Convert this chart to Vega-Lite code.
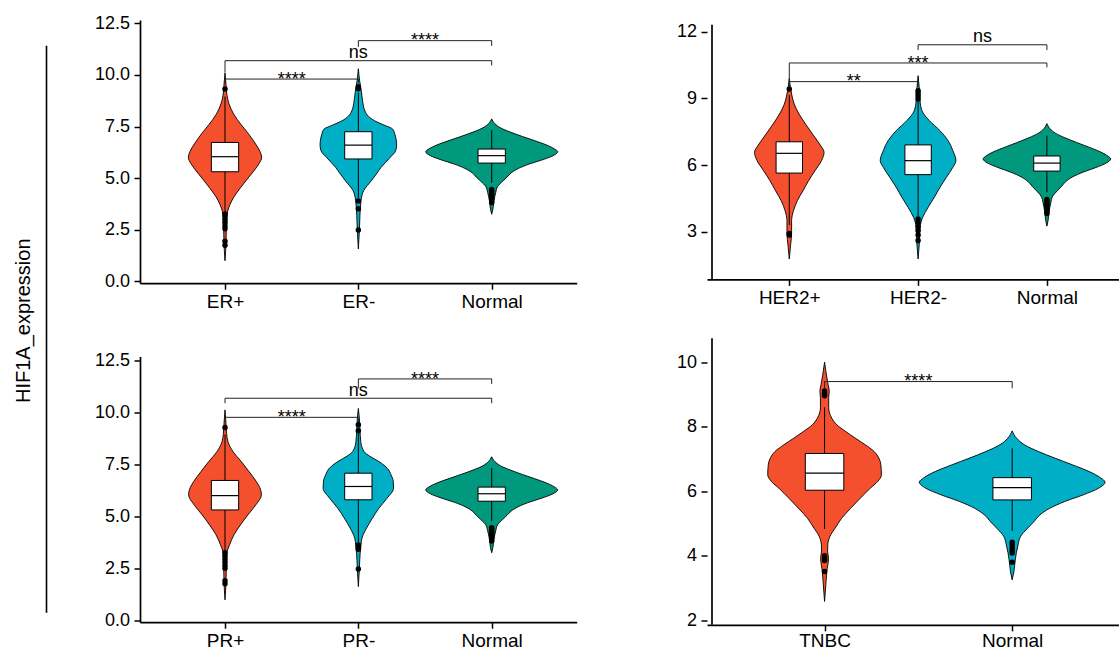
{
"$schema": "https://vega.github.io/schema/vega-lite/v6.json",
"padding": {"left": 0, "top": 14, "right": 0, "bottom": 0},
"config": {
  "font": "Liberation Sans",
  "view": {"stroke": null},
  "axis": {"grid": false, "domainColor": "black", "domainWidth": 1.7, "tickColor": "black", "tickWidth": 1.5, "tickSize": 6, "labelColor": "black", "labelFlush": false, "labelOverlap": false, "labelFont": "Liberation Sans"},
  "axisX": {"labelFontSize": 19, "labelPadding": 3},
  "axisY": {"labelFontSize": 18, "labelPadding": 4.5}
},
"datasets": {
  "violins": [
    {"p":"ER","g":"ER+","y":1.0,"lo":1,"hi":1},
    {"p":"ER","g":"ER+","y":1.5,"lo":0.995,"hi":1.005},
    {"p":"ER","g":"ER+","y":2.0,"lo":0.992,"hi":1.008},
    {"p":"ER","g":"ER+","y":2.5,"lo":0.99,"hi":1.01},
    {"p":"ER","g":"ER+","y":3.0,"lo":0.988,"hi":1.012},
    {"p":"ER","g":"ER+","y":3.4,"lo":0.98,"hi":1.02},
    {"p":"ER","g":"ER+","y":3.7,"lo":0.964,"hi":1.036},
    {"p":"ER","g":"ER+","y":4.1,"lo":0.932,"hi":1.068},
    {"p":"ER","g":"ER+","y":4.55,"lo":0.882,"hi":1.118},
    {"p":"ER","g":"ER+","y":4.9,"lo":0.84,"hi":1.16},
    {"p":"ER","g":"ER+","y":5.3,"lo":0.79,"hi":1.21},
    {"p":"ER","g":"ER+","y":5.7,"lo":0.745,"hi":1.255},
    {"p":"ER","g":"ER+","y":6.0,"lo":0.725,"hi":1.275},
    {"p":"ER","g":"ER+","y":6.3,"lo":0.738,"hi":1.262},
    {"p":"ER","g":"ER+","y":6.7,"lo":0.775,"hi":1.225},
    {"p":"ER","g":"ER+","y":7.2,"lo":0.83,"hi":1.17},
    {"p":"ER","g":"ER+","y":7.6,"lo":0.88,"hi":1.12},
    {"p":"ER","g":"ER+","y":8.1,"lo":0.935,"hi":1.065},
    {"p":"ER","g":"ER+","y":8.6,"lo":0.97,"hi":1.03},
    {"p":"ER","g":"ER+","y":9.0,"lo":0.985,"hi":1.015},
    {"p":"ER","g":"ER+","y":9.5,"lo":0.992,"hi":1.008},
    {"p":"ER","g":"ER+","y":10.1,"lo":1,"hi":1},

    {"p":"ER","g":"ER-","y":1.57,"lo":2,"hi":2},
    {"p":"ER","g":"ER-","y":2.5,"lo":1.992,"hi":2.008},
    {"p":"ER","g":"ER-","y":3.2,"lo":1.988,"hi":2.012},
    {"p":"ER","g":"ER-","y":3.9,"lo":1.98,"hi":2.02},
    {"p":"ER","g":"ER-","y":4.4,"lo":1.96,"hi":2.04},
    {"p":"ER","g":"ER-","y":4.88,"lo":1.902,"hi":2.098},
    {"p":"ER","g":"ER-","y":5.2,"lo":1.865,"hi":2.135},
    {"p":"ER","g":"ER-","y":5.52,"lo":1.83,"hi":2.17},
    {"p":"ER","g":"ER-","y":6.0,"lo":1.762,"hi":2.238},
    {"p":"ER","g":"ER-","y":6.33,"lo":1.72,"hi":2.28},
    {"p":"ER","g":"ER-","y":6.6,"lo":1.713,"hi":2.287},
    {"p":"ER","g":"ER-","y":6.85,"lo":1.716,"hi":2.284},
    {"p":"ER","g":"ER-","y":7.1,"lo":1.725,"hi":2.275},
    {"p":"ER","g":"ER-","y":7.38,"lo":1.743,"hi":2.257},
    {"p":"ER","g":"ER-","y":7.55,"lo":1.8,"hi":2.2},
    {"p":"ER","g":"ER-","y":7.78,"lo":1.878,"hi":2.122},
    {"p":"ER","g":"ER-","y":8.0,"lo":1.925,"hi":2.075},
    {"p":"ER","g":"ER-","y":8.26,"lo":1.951,"hi":2.049},
    {"p":"ER","g":"ER-","y":8.74,"lo":1.968,"hi":2.032},
    {"p":"ER","g":"ER-","y":9.23,"lo":1.978,"hi":2.022},
    {"p":"ER","g":"ER-","y":9.7,"lo":1.99,"hi":2.01},
    {"p":"ER","g":"ER-","y":10.3,"lo":2,"hi":2},

    {"p":"ER","g":"Normal","y":3.25,"lo":3,"hi":3},
    {"p":"ER","g":"Normal","y":3.5,"lo":2.991,"hi":3.009},
    {"p":"ER","g":"Normal","y":3.9,"lo":2.983,"hi":3.017},
    {"p":"ER","g":"Normal","y":4.3,"lo":2.97,"hi":3.03},
    {"p":"ER","g":"Normal","y":4.6,"lo":2.955,"hi":3.045},
    {"p":"ER","g":"Normal","y":4.85,"lo":2.918,"hi":3.082},
    {"p":"ER","g":"Normal","y":5.05,"lo":2.885,"hi":3.115},
    {"p":"ER","g":"Normal","y":5.25,"lo":2.855,"hi":3.145},
    {"p":"ER","g":"Normal","y":5.47,"lo":2.8,"hi":3.2},
    {"p":"ER","g":"Normal","y":5.68,"lo":2.72,"hi":3.28},
    {"p":"ER","g":"Normal","y":5.89,"lo":2.62,"hi":3.38},
    {"p":"ER","g":"Normal","y":6.09,"lo":2.54,"hi":3.46},
    {"p":"ER","g":"Normal","y":6.28,"lo":2.505,"hi":3.495},
    {"p":"ER","g":"Normal","y":6.42,"lo":2.53,"hi":3.47},
    {"p":"ER","g":"Normal","y":6.61,"lo":2.59,"hi":3.41},
    {"p":"ER","g":"Normal","y":6.82,"lo":2.68,"hi":3.32},
    {"p":"ER","g":"Normal","y":7.02,"lo":2.77,"hi":3.23},
    {"p":"ER","g":"Normal","y":7.23,"lo":2.86,"hi":3.14},
    {"p":"ER","g":"Normal","y":7.44,"lo":2.935,"hi":3.065},
    {"p":"ER","g":"Normal","y":7.64,"lo":2.976,"hi":3.024},
    {"p":"ER","g":"Normal","y":7.87,"lo":3,"hi":3},

    {"p":"HER","g":"HER2+","y":1.77,"lo":1,"hi":1},
    {"p":"HER","g":"HER2+","y":2.4,"lo":0.99,"hi":1.01},
    {"p":"HER","g":"HER2+","y":2.9,"lo":0.982,"hi":1.018},
    {"p":"HER","g":"HER2+","y":3.5,"lo":0.982,"hi":1.018},
    {"p":"HER","g":"HER2+","y":3.95,"lo":0.967,"hi":1.033},
    {"p":"HER","g":"HER2+","y":4.4,"lo":0.937,"hi":1.063},
    {"p":"HER","g":"HER2+","y":4.85,"lo":0.893,"hi":1.107},
    {"p":"HER","g":"HER2+","y":5.3,"lo":0.85,"hi":1.15},
    {"p":"HER","g":"HER2+","y":5.75,"lo":0.8,"hi":1.2},
    {"p":"HER","g":"HER2+","y":6.2,"lo":0.75,"hi":1.25},
    {"p":"HER","g":"HER2+","y":6.57,"lo":0.73,"hi":1.27},
    {"p":"HER","g":"HER2+","y":6.95,"lo":0.765,"hi":1.235},
    {"p":"HER","g":"HER2+","y":7.4,"lo":0.82,"hi":1.18},
    {"p":"HER","g":"HER2+","y":7.85,"lo":0.874,"hi":1.126},
    {"p":"HER","g":"HER2+","y":8.3,"lo":0.924,"hi":1.076},
    {"p":"HER","g":"HER2+","y":8.75,"lo":0.962,"hi":1.038},
    {"p":"HER","g":"HER2+","y":9.2,"lo":0.982,"hi":1.018},
    {"p":"HER","g":"HER2+","y":9.9,"lo":1,"hi":1},

    {"p":"HER","g":"HER2-","y":1.77,"lo":2,"hi":2},
    {"p":"HER","g":"HER2-","y":2.5,"lo":1.99,"hi":2.01},
    {"p":"HER","g":"HER2-","y":3.19,"lo":1.985,"hi":2.015},
    {"p":"HER","g":"HER2-","y":3.64,"lo":1.965,"hi":2.035},
    {"p":"HER","g":"HER2-","y":4.1,"lo":1.922,"hi":2.078},
    {"p":"HER","g":"HER2-","y":4.55,"lo":1.874,"hi":2.126},
    {"p":"HER","g":"HER2-","y":5.0,"lo":1.83,"hi":2.17},
    {"p":"HER","g":"HER2-","y":5.45,"lo":1.78,"hi":2.22},
    {"p":"HER","g":"HER2-","y":5.9,"lo":1.73,"hi":2.27},
    {"p":"HER","g":"HER2-","y":6.2,"lo":1.706,"hi":2.294},
    {"p":"HER","g":"HER2-","y":6.65,"lo":1.73,"hi":2.27},
    {"p":"HER","g":"HER2-","y":7.1,"lo":1.767,"hi":2.233},
    {"p":"HER","g":"HER2-","y":7.55,"lo":1.83,"hi":2.17},
    {"p":"HER","g":"HER2-","y":8.0,"lo":1.912,"hi":2.088},
    {"p":"HER","g":"HER2-","y":8.45,"lo":1.97,"hi":2.03},
    {"p":"HER","g":"HER2-","y":8.9,"lo":1.985,"hi":2.015},
    {"p":"HER","g":"HER2-","y":9.4,"lo":1.99,"hi":2.01},
    {"p":"HER","g":"HER2-","y":10.03,"lo":2,"hi":2},

    {"p":"HER","g":"Normal","y":3.25,"lo":3,"hi":3},
    {"p":"HER","g":"Normal","y":3.5,"lo":2.991,"hi":3.009},
    {"p":"HER","g":"Normal","y":3.9,"lo":2.983,"hi":3.017},
    {"p":"HER","g":"Normal","y":4.3,"lo":2.97,"hi":3.03},
    {"p":"HER","g":"Normal","y":4.6,"lo":2.955,"hi":3.045},
    {"p":"HER","g":"Normal","y":4.85,"lo":2.918,"hi":3.082},
    {"p":"HER","g":"Normal","y":5.05,"lo":2.885,"hi":3.115},
    {"p":"HER","g":"Normal","y":5.25,"lo":2.855,"hi":3.145},
    {"p":"HER","g":"Normal","y":5.47,"lo":2.8,"hi":3.2},
    {"p":"HER","g":"Normal","y":5.68,"lo":2.72,"hi":3.28},
    {"p":"HER","g":"Normal","y":5.89,"lo":2.62,"hi":3.38},
    {"p":"HER","g":"Normal","y":6.09,"lo":2.54,"hi":3.46},
    {"p":"HER","g":"Normal","y":6.28,"lo":2.505,"hi":3.495},
    {"p":"HER","g":"Normal","y":6.42,"lo":2.53,"hi":3.47},
    {"p":"HER","g":"Normal","y":6.61,"lo":2.59,"hi":3.41},
    {"p":"HER","g":"Normal","y":6.82,"lo":2.68,"hi":3.32},
    {"p":"HER","g":"Normal","y":7.02,"lo":2.77,"hi":3.23},
    {"p":"HER","g":"Normal","y":7.23,"lo":2.86,"hi":3.14},
    {"p":"HER","g":"Normal","y":7.44,"lo":2.935,"hi":3.065},
    {"p":"HER","g":"Normal","y":7.64,"lo":2.976,"hi":3.024},
    {"p":"HER","g":"Normal","y":7.87,"lo":3,"hi":3},

    {"p":"PR","g":"PR+","y":0.98,"lo":1,"hi":1},
    {"p":"PR","g":"PR+","y":1.5,"lo":0.995,"hi":1.005},
    {"p":"PR","g":"PR+","y":2.0,"lo":0.992,"hi":1.008},
    {"p":"PR","g":"PR+","y":2.5,"lo":0.99,"hi":1.01},
    {"p":"PR","g":"PR+","y":3.0,"lo":0.988,"hi":1.012},
    {"p":"PR","g":"PR+","y":3.31,"lo":0.984,"hi":1.016},
    {"p":"PR","g":"PR+","y":3.63,"lo":0.966,"hi":1.034},
    {"p":"PR","g":"PR+","y":4.11,"lo":0.933,"hi":1.067},
    {"p":"PR","g":"PR+","y":4.59,"lo":0.884,"hi":1.116},
    {"p":"PR","g":"PR+","y":5.07,"lo":0.829,"hi":1.171},
    {"p":"PR","g":"PR+","y":5.56,"lo":0.768,"hi":1.232},
    {"p":"PR","g":"PR+","y":6.04,"lo":0.727,"hi":1.273},
    {"p":"PR","g":"PR+","y":6.4,"lo":0.74,"hi":1.26},
    {"p":"PR","g":"PR+","y":6.68,"lo":0.765,"hi":1.235},
    {"p":"PR","g":"PR+","y":7.16,"lo":0.82,"hi":1.18},
    {"p":"PR","g":"PR+","y":7.64,"lo":0.878,"hi":1.122},
    {"p":"PR","g":"PR+","y":8.12,"lo":0.94,"hi":1.06},
    {"p":"PR","g":"PR+","y":8.6,"lo":0.978,"hi":1.022},
    {"p":"PR","g":"PR+","y":9.0,"lo":0.988,"hi":1.012},
    {"p":"PR","g":"PR+","y":9.5,"lo":0.993,"hi":1.007},
    {"p":"PR","g":"PR+","y":10.13,"lo":1,"hi":1},

    {"p":"PR","g":"PR-","y":1.62,"lo":2,"hi":2},
    {"p":"PR","g":"PR-","y":2.5,"lo":1.992,"hi":2.008},
    {"p":"PR","g":"PR-","y":3.2,"lo":1.987,"hi":2.013},
    {"p":"PR","g":"PR-","y":3.63,"lo":1.98,"hi":2.02},
    {"p":"PR","g":"PR-","y":3.95,"lo":1.973,"hi":2.027},
    {"p":"PR","g":"PR-","y":4.43,"lo":1.939,"hi":2.061},
    {"p":"PR","g":"PR-","y":4.91,"lo":1.895,"hi":2.105},
    {"p":"PR","g":"PR-","y":5.39,"lo":1.846,"hi":2.154},
    {"p":"PR","g":"PR-","y":5.87,"lo":1.785,"hi":2.215},
    {"p":"PR","g":"PR-","y":6.36,"lo":1.736,"hi":2.264},
    {"p":"PR","g":"PR-","y":6.68,"lo":1.738,"hi":2.262},
    {"p":"PR","g":"PR-","y":7.0,"lo":1.755,"hi":2.245},
    {"p":"PR","g":"PR-","y":7.3,"lo":1.78,"hi":2.22},
    {"p":"PR","g":"PR-","y":7.64,"lo":1.846,"hi":2.154},
    {"p":"PR","g":"PR-","y":7.9,"lo":1.915,"hi":2.085},
    {"p":"PR","g":"PR-","y":8.12,"lo":1.957,"hi":2.043},
    {"p":"PR","g":"PR-","y":8.6,"lo":1.982,"hi":2.018},
    {"p":"PR","g":"PR-","y":9.2,"lo":1.988,"hi":2.012},
    {"p":"PR","g":"PR-","y":9.7,"lo":1.992,"hi":2.008},
    {"p":"PR","g":"PR-","y":10.2,"lo":2,"hi":2},

    {"p":"PR","g":"Normal","y":3.25,"lo":3,"hi":3},
    {"p":"PR","g":"Normal","y":3.5,"lo":2.991,"hi":3.009},
    {"p":"PR","g":"Normal","y":3.9,"lo":2.983,"hi":3.017},
    {"p":"PR","g":"Normal","y":4.3,"lo":2.97,"hi":3.03},
    {"p":"PR","g":"Normal","y":4.6,"lo":2.955,"hi":3.045},
    {"p":"PR","g":"Normal","y":4.85,"lo":2.918,"hi":3.082},
    {"p":"PR","g":"Normal","y":5.05,"lo":2.885,"hi":3.115},
    {"p":"PR","g":"Normal","y":5.25,"lo":2.855,"hi":3.145},
    {"p":"PR","g":"Normal","y":5.47,"lo":2.8,"hi":3.2},
    {"p":"PR","g":"Normal","y":5.68,"lo":2.72,"hi":3.28},
    {"p":"PR","g":"Normal","y":5.89,"lo":2.62,"hi":3.38},
    {"p":"PR","g":"Normal","y":6.09,"lo":2.54,"hi":3.46},
    {"p":"PR","g":"Normal","y":6.28,"lo":2.505,"hi":3.495},
    {"p":"PR","g":"Normal","y":6.42,"lo":2.53,"hi":3.47},
    {"p":"PR","g":"Normal","y":6.61,"lo":2.59,"hi":3.41},
    {"p":"PR","g":"Normal","y":6.82,"lo":2.68,"hi":3.32},
    {"p":"PR","g":"Normal","y":7.02,"lo":2.77,"hi":3.23},
    {"p":"PR","g":"Normal","y":7.23,"lo":2.86,"hi":3.14},
    {"p":"PR","g":"Normal","y":7.44,"lo":2.935,"hi":3.065},
    {"p":"PR","g":"Normal","y":7.64,"lo":2.976,"hi":3.024},
    {"p":"PR","g":"Normal","y":7.87,"lo":3,"hi":3},

    {"p":"TN","g":"TNBC","y":2.58,"lo":1,"hi":1},
    {"p":"TN","g":"TNBC","y":3.2,"lo":0.992,"hi":1.008},
    {"p":"TN","g":"TNBC","y":3.51,"lo":0.988,"hi":1.012},
    {"p":"TN","g":"TNBC","y":3.92,"lo":0.979,"hi":1.021},
    {"p":"TN","g":"TNBC","y":4.15,"lo":0.984,"hi":1.016},
    {"p":"TN","g":"TNBC","y":4.34,"lo":0.983,"hi":1.017},
    {"p":"TN","g":"TNBC","y":4.65,"lo":0.967,"hi":1.033},
    {"p":"TN","g":"TNBC","y":4.85,"lo":0.944,"hi":1.056},
    {"p":"TN","g":"TNBC","y":5.16,"lo":0.909,"hi":1.091},
    {"p":"TN","g":"TNBC","y":5.47,"lo":0.861,"hi":1.139},
    {"p":"TN","g":"TNBC","y":5.78,"lo":0.81,"hi":1.19},
    {"p":"TN","g":"TNBC","y":6.09,"lo":0.757,"hi":1.243},
    {"p":"TN","g":"TNBC","y":6.3,"lo":0.717,"hi":1.283},
    {"p":"TN","g":"TNBC","y":6.51,"lo":0.697,"hi":1.303},
    {"p":"TN","g":"TNBC","y":6.82,"lo":0.7,"hi":1.3},
    {"p":"TN","g":"TNBC","y":7.02,"lo":0.71,"hi":1.29},
    {"p":"TN","g":"TNBC","y":7.23,"lo":0.736,"hi":1.264},
    {"p":"TN","g":"TNBC","y":7.44,"lo":0.783,"hi":1.217},
    {"p":"TN","g":"TNBC","y":7.64,"lo":0.835,"hi":1.165},
    {"p":"TN","g":"TNBC","y":7.85,"lo":0.887,"hi":1.113},
    {"p":"TN","g":"TNBC","y":8.06,"lo":0.935,"hi":1.065},
    {"p":"TN","g":"TNBC","y":8.26,"lo":0.961,"hi":1.039},
    {"p":"TN","g":"TNBC","y":8.6,"lo":0.978,"hi":1.022},
    {"p":"TN","g":"TNBC","y":8.9,"lo":0.978,"hi":1.022},
    {"p":"TN","g":"TNBC","y":9.1,"lo":0.975,"hi":1.025},
    {"p":"TN","g":"TNBC","y":9.3,"lo":0.981,"hi":1.019},
    {"p":"TN","g":"TNBC","y":9.6,"lo":0.99,"hi":1.01},
    {"p":"TN","g":"TNBC","y":10.0,"lo":1,"hi":1},

    {"p":"TN","g":"Normal","y":3.25,"lo":2,"hi":2},
    {"p":"TN","g":"Normal","y":3.5,"lo":1.991,"hi":2.009},
    {"p":"TN","g":"Normal","y":3.9,"lo":1.983,"hi":2.017},
    {"p":"TN","g":"Normal","y":4.3,"lo":1.97,"hi":2.03},
    {"p":"TN","g":"Normal","y":4.6,"lo":1.955,"hi":2.045},
    {"p":"TN","g":"Normal","y":4.85,"lo":1.918,"hi":2.082},
    {"p":"TN","g":"Normal","y":5.05,"lo":1.885,"hi":2.115},
    {"p":"TN","g":"Normal","y":5.25,"lo":1.855,"hi":2.145},
    {"p":"TN","g":"Normal","y":5.47,"lo":1.8,"hi":2.2},
    {"p":"TN","g":"Normal","y":5.68,"lo":1.72,"hi":2.28},
    {"p":"TN","g":"Normal","y":5.89,"lo":1.62,"hi":2.38},
    {"p":"TN","g":"Normal","y":6.09,"lo":1.54,"hi":2.46},
    {"p":"TN","g":"Normal","y":6.28,"lo":1.505,"hi":2.495},
    {"p":"TN","g":"Normal","y":6.42,"lo":1.53,"hi":2.47},
    {"p":"TN","g":"Normal","y":6.61,"lo":1.59,"hi":2.41},
    {"p":"TN","g":"Normal","y":6.82,"lo":1.68,"hi":2.32},
    {"p":"TN","g":"Normal","y":7.02,"lo":1.77,"hi":2.23},
    {"p":"TN","g":"Normal","y":7.23,"lo":1.86,"hi":2.14},
    {"p":"TN","g":"Normal","y":7.44,"lo":1.935,"hi":2.065},
    {"p":"TN","g":"Normal","y":7.64,"lo":1.976,"hi":2.024},
    {"p":"TN","g":"Normal","y":7.87,"lo":2,"hi":2}
  ],
  "boxes": [
    {"p":"ER","g":"ER+","x":1,"lo":3.35,"q1":5.31,"med":6.04,"q3":6.73,"hi":8.95},
    {"p":"ER","g":"ER-","x":2,"lo":4.05,"q1":5.93,"med":6.6,"q3":7.25,"hi":9.15},
    {"p":"ER","g":"Normal","x":3,"lo":4.77,"q1":5.73,"med":6.09,"q3":6.41,"hi":7.33},
    {"p":"HER","g":"HER2+","x":1,"lo":3.3,"q1":5.64,"med":6.53,"q3":7.05,"hi":9.15},
    {"p":"HER","g":"HER2-","x":2,"lo":3.7,"q1":5.57,"med":6.2,"q3":6.91,"hi":8.85},
    {"p":"HER","g":"Normal","x":3,"lo":4.77,"q1":5.73,"med":6.09,"q3":6.41,"hi":7.33},
    {"p":"PR","g":"PR+","x":1,"lo":3.35,"q1":5.31,"med":6.0,"q3":6.73,"hi":8.95},
    {"p":"PR","g":"PR-","x":2,"lo":3.75,"q1":5.8,"med":6.44,"q3":7.08,"hi":9.0},
    {"p":"PR","g":"Normal","x":3,"lo":4.77,"q1":5.73,"med":6.09,"q3":6.41,"hi":7.33},
    {"p":"TN","g":"TNBC","x":1,"lo":4.83,"q1":6.03,"med":6.56,"q3":7.17,"hi":8.6},
    {"p":"TN","g":"Normal","x":2,"lo":4.77,"q1":5.73,"med":6.11,"q3":6.42,"hi":7.33}
  ],
  "outliers": [
    {"p":"ER","x":1,"y":9.32},{"p":"ER","x":1,"y":3.27},{"p":"ER","x":1,"y":3.15},{"p":"ER","x":1,"y":3.0},{"p":"ER","x":1,"y":2.85},{"p":"ER","x":1,"y":2.7},{"p":"ER","x":1,"y":2.55},{"p":"ER","x":1,"y":1.95},{"p":"ER","x":1,"y":1.75},
    {"p":"ER","x":2,"y":9.43},{"p":"ER","x":2,"y":9.33},{"p":"ER","x":2,"y":3.9},{"p":"ER","x":2,"y":3.52},{"p":"ER","x":2,"y":2.49},
    {"p":"ER","x":3,"y":4.45},{"p":"ER","x":3,"y":4.38},{"p":"ER","x":3,"y":4.3},{"p":"ER","x":3,"y":4.22},{"p":"ER","x":3,"y":4.15},{"p":"ER","x":3,"y":4.08},{"p":"ER","x":3,"y":3.95},{"p":"ER","x":3,"y":3.82},
    {"p":"HER","x":1,"y":9.43},{"p":"HER","x":1,"y":2.92},{"p":"HER","x":1,"y":2.85},
    {"p":"HER","x":2,"y":9.35},{"p":"HER","x":2,"y":9.25},{"p":"HER","x":2,"y":9.12},{"p":"HER","x":2,"y":8.98},{"p":"HER","x":2,"y":3.57},{"p":"HER","x":2,"y":3.42},{"p":"HER","x":2,"y":3.22},{"p":"HER","x":2,"y":3.05},{"p":"HER","x":2,"y":2.85},{"p":"HER","x":2,"y":2.6},
    {"p":"HER","x":3,"y":4.45},{"p":"HER","x":3,"y":4.38},{"p":"HER","x":3,"y":4.3},{"p":"HER","x":3,"y":4.22},{"p":"HER","x":3,"y":4.15},{"p":"HER","x":3,"y":4.08},{"p":"HER","x":3,"y":3.95},{"p":"HER","x":3,"y":3.82},
    {"p":"PR","x":1,"y":9.28},{"p":"PR","x":1,"y":3.25},{"p":"PR","x":1,"y":3.1},{"p":"PR","x":1,"y":2.95},{"p":"PR","x":1,"y":2.8},{"p":"PR","x":1,"y":2.65},{"p":"PR","x":1,"y":2.5},{"p":"PR","x":1,"y":1.9},{"p":"PR","x":1,"y":1.75},
    {"p":"PR","x":2,"y":9.41},{"p":"PR","x":2,"y":9.12},{"p":"PR","x":2,"y":3.62},{"p":"PR","x":2,"y":3.5},{"p":"PR","x":2,"y":3.42},{"p":"PR","x":2,"y":2.47},
    {"p":"PR","x":3,"y":4.45},{"p":"PR","x":3,"y":4.38},{"p":"PR","x":3,"y":4.3},{"p":"PR","x":3,"y":4.22},{"p":"PR","x":3,"y":4.15},{"p":"PR","x":3,"y":4.08},{"p":"PR","x":3,"y":3.95},{"p":"PR","x":3,"y":3.82},
    {"p":"TN","x":1,"y":9.11},{"p":"TN","x":1,"y":9.05},{"p":"TN","x":1,"y":9.0},{"p":"TN","x":1,"y":8.96},{"p":"TN","x":1,"y":4.0},{"p":"TN","x":1,"y":3.95},{"p":"TN","x":1,"y":3.9},{"p":"TN","x":1,"y":3.85},{"p":"TN","x":1,"y":3.51},
    {"p":"TN","x":2,"y":4.42},{"p":"TN","x":2,"y":4.35},{"p":"TN","x":2,"y":4.25},{"p":"TN","x":2,"y":4.15},{"p":"TN","x":2,"y":4.08},{"p":"TN","x":2,"y":3.8}
  ],
  "brackets": [
    {"p":"ER","x1":1,"x2":2,"xm":1.5,"y":9.8,"yl":9.6,"yr":9.6,"label":"****"},
    {"p":"ER","x1":1,"x2":3,"xm":2,"y":10.69,"yl":10.12,"yr":10.46,"label":"ns"},
    {"p":"ER","x1":2,"x2":3,"xm":2.5,"y":11.66,"yl":11.36,"yr":11.41,"label":"****"},
    {"p":"HER","x1":1,"x2":2,"xm":1.5,"y":9.76,"yl":9.55,"yr":9.55,"label":"**"},
    {"p":"HER","x1":1,"x2":3,"xm":2,"y":10.6,"yl":9.76,"yr":10.4,"label":"***"},
    {"p":"HER","x1":2,"x2":3,"xm":2.5,"y":11.42,"yl":11.18,"yr":11.18,"label":"ns"},
    {"p":"PR","x1":1,"x2":2,"xm":1.5,"y":9.77,"yl":9.55,"yr":9.55,"label":"****"},
    {"p":"PR","x1":1,"x2":3,"xm":2,"y":10.69,"yl":10.45,"yr":10.45,"label":"ns"},
    {"p":"PR","x1":2,"x2":3,"xm":2.5,"y":11.62,"yl":11.17,"yr":11.38,"label":"****"},
    {"p":"TN","x1":1,"x2":2,"xm":1.5,"y":9.4,"yl":9.2,"yr":9.19,"label":"****"}
  ]
},
"columns": 3,
"align": "each",
"bounds": "flush",
"spacing": {"row": 72.5, "column": 130},
"resolve": {"scale": {"color": "independent"}},
"concat": [
  {
    "width": 10, "height": 263.2,
    "data": {"values": [{"t": "HIF1A_expression"}]},
    "layer": [
      {"mark": {"type": "text", "angle": 270, "fontSize": 20, "color": "black", "baseline": "middle", "align": "center"},
       "encoding": {
         "text": {"field": "t"},
         "x": {"datum": 0.4, "type": "quantitative", "scale": {"domain": [0, 0.16667], "nice": false, "zero": false}, "axis": null},
         "y": {"datum": 0.5, "type": "quantitative", "scale": {"domain": [0.5624, 1], "nice": false, "zero": false}, "axis": null}}},
      {"mark": {"type": "rule", "color": "black", "strokeWidth": 1.6},
       "encoding": {
         "x": {"datum": 0.775, "type": "quantitative"},
         "y": {"datum": 0.957, "type": "quantitative"},
         "y2": {"datum": 0.0145}}}
    ]
  },
  {
    "width": 436.7, "height": 263.2,
    "layer": [
      {"data": {"name": "violins"}, "transform": [{"filter": "datum.p == 'ER'"}],
       "mark": {"type": "area", "orient": "horizontal", "interpolate": "monotone", "stroke": "black", "strokeWidth": 0.9, "opacity": 1, "fillOpacity": 1},
       "encoding": {
         "y": {"field": "y", "type": "quantitative", "scale": {"domain": [-0.087, 12.66], "nice": false, "zero": false}, "axis": {"title": null, "values": [0, 2.5, 5, 7.5, 10, 12.5], "format": ".1f"}},
         "x": {"field": "lo", "type": "quantitative", "stack": null, "scale": {"domain": [0.4, 3.6], "nice": false, "zero": false}, "axis": {"title": null, "values": [1, 2, 3], "labelExpr": "datum.value == 1 ? 'ER+' : datum.value == 2 ? 'ER-' : 'Normal'"}},
         "x2": {"field": "hi"},
         "color": {"field": "g", "type": "nominal", "scale": {"domain": ["ER+", "ER-", "Normal"], "range": ["#F4502D", "#00AFC6", "#00997D"]}, "legend": null}}},
      {"data": {"name": "boxes"}, "transform": [{"filter": "datum.p == 'ER'"}],
       "mark": {"type": "rule", "color": "black", "strokeWidth": 1},
       "encoding": {"x": {"field": "x", "type": "quantitative"}, "y": {"field": "lo", "type": "quantitative"}, "y2": {"field": "hi"}}},
      {"data": {"name": "boxes"}, "transform": [{"filter": "datum.p == 'ER'"}],
       "mark": {"type": "bar", "fill": "white", "stroke": "black", "strokeWidth": 1, "size": 27.3, "opacity": 1},
       "encoding": {"x": {"field": "x", "type": "quantitative"}, "y": {"field": "q1", "type": "quantitative"}, "y2": {"field": "q3"}}},
      {"data": {"name": "boxes"}, "transform": [{"filter": "datum.p == 'ER'"}],
       "mark": {"type": "tick", "orient": "horizontal", "size": 27.3, "thickness": 1.2, "color": "black", "opacity": 1},
       "encoding": {"x": {"field": "x", "type": "quantitative"}, "y": {"field": "med", "type": "quantitative"}}},
      {"data": {"name": "outliers"}, "transform": [{"filter": "datum.p == 'ER'"}],
       "mark": {"type": "point", "filled": true, "color": "black", "size": 30, "opacity": 1},
       "encoding": {"x": {"field": "x", "type": "quantitative"}, "y": {"field": "y", "type": "quantitative"}}},
      {"data": {"name": "brackets"}, "transform": [{"filter": "datum.p == 'ER'"}],
       "mark": {"type": "rule", "color": "#222222", "strokeWidth": 1},
       "encoding": {"x": {"field": "x1", "type": "quantitative"}, "x2": {"field": "x2"}, "y": {"field": "y", "type": "quantitative"}}},
      {"data": {"name": "brackets"}, "transform": [{"filter": "datum.p == 'ER'"}],
       "mark": {"type": "rule", "color": "#222222", "strokeWidth": 1},
       "encoding": {"x": {"field": "x1", "type": "quantitative"}, "y": {"field": "y", "type": "quantitative"}, "y2": {"field": "yl"}}},
      {"data": {"name": "brackets"}, "transform": [{"filter": "datum.p == 'ER'"}],
       "mark": {"type": "rule", "color": "#222222", "strokeWidth": 1},
       "encoding": {"x": {"field": "x2", "type": "quantitative"}, "y": {"field": "y", "type": "quantitative"}, "y2": {"field": "yr"}}},
      {"data": {"name": "brackets"}, "transform": [{"filter": "datum.p == 'ER' && datum.label == 'ns'"}],
       "mark": {"type": "text", "fontSize": 18, "color": "black", "baseline": "alphabetic", "align": "center", "dy": -2.5},
       "encoding": {"x": {"field": "xm", "type": "quantitative"}, "y": {"field": "y", "type": "quantitative"}, "text": {"field": "label"}}},
      {"data": {"name": "brackets"}, "transform": [{"filter": "datum.p == 'ER' && datum.label != 'ns'"}],
       "mark": {"type": "text", "fontSize": 18, "color": "black", "baseline": "alphabetic", "align": "center", "dy": 5.8},
       "encoding": {"x": {"field": "xm", "type": "quantitative"}, "y": {"field": "y", "type": "quantitative"}, "text": {"field": "label"}}}
    ]
  },
  {
    "width": 411.5, "height": 259.4,
    "layer": [
      {"data": {"name": "violins"}, "transform": [{"filter": "datum.p == 'HER'"}],
       "mark": {"type": "area", "orient": "horizontal", "interpolate": "monotone", "stroke": "black", "strokeWidth": 0.9, "opacity": 1, "fillOpacity": 1},
       "encoding": {
         "y": {"field": "y", "type": "quantitative", "scale": {"domain": [0.851, 12.536], "nice": false, "zero": false}, "axis": {"title": null, "domain": false, "values": [3, 6, 9, 12], "format": "d"}},
         "x": {"field": "lo", "type": "quantitative", "stack": null, "scale": {"domain": [0.4, 3.517], "nice": false, "zero": false}, "axis": {"title": null, "values": [1, 2, 3], "labelExpr": "datum.value == 1 ? 'HER2+' : datum.value == 2 ? 'HER2-' : 'Normal'"}},
         "x2": {"field": "hi"},
         "color": {"field": "g", "type": "nominal", "scale": {"domain": ["HER2+", "HER2-", "Normal"], "range": ["#F4502D", "#00AFC6", "#00997D"]}, "legend": null}}},
      {"data": {"values": [{}]},
       "mark": {"type": "rule", "color": "black", "strokeWidth": 1.7},
       "encoding": {"x": {"datum": 0.4, "type": "quantitative"}, "y": {"datum": 0.851, "type": "quantitative"}, "y2": {"datum": 12.32}}},
      {"data": {"name": "boxes"}, "transform": [{"filter": "datum.p == 'HER'"}],
       "mark": {"type": "rule", "color": "black", "strokeWidth": 1},
       "encoding": {"x": {"field": "x", "type": "quantitative"}, "y": {"field": "lo", "type": "quantitative"}, "y2": {"field": "hi"}}},
      {"data": {"name": "boxes"}, "transform": [{"filter": "datum.p == 'HER'"}],
       "mark": {"type": "bar", "fill": "white", "stroke": "black", "strokeWidth": 1, "size": 26.4, "opacity": 1},
       "encoding": {"x": {"field": "x", "type": "quantitative"}, "y": {"field": "q1", "type": "quantitative"}, "y2": {"field": "q3"}}},
      {"data": {"name": "boxes"}, "transform": [{"filter": "datum.p == 'HER'"}],
       "mark": {"type": "tick", "orient": "horizontal", "size": 26.4, "thickness": 1.2, "color": "black", "opacity": 1},
       "encoding": {"x": {"field": "x", "type": "quantitative"}, "y": {"field": "med", "type": "quantitative"}}},
      {"data": {"name": "outliers"}, "transform": [{"filter": "datum.p == 'HER'"}],
       "mark": {"type": "point", "filled": true, "color": "black", "size": 30, "opacity": 1},
       "encoding": {"x": {"field": "x", "type": "quantitative"}, "y": {"field": "y", "type": "quantitative"}}},
      {"data": {"name": "brackets"}, "transform": [{"filter": "datum.p == 'HER'"}],
       "mark": {"type": "rule", "color": "#222222", "strokeWidth": 1},
       "encoding": {"x": {"field": "x1", "type": "quantitative"}, "x2": {"field": "x2"}, "y": {"field": "y", "type": "quantitative"}}},
      {"data": {"name": "brackets"}, "transform": [{"filter": "datum.p == 'HER'"}],
       "mark": {"type": "rule", "color": "#222222", "strokeWidth": 1},
       "encoding": {"x": {"field": "x1", "type": "quantitative"}, "y": {"field": "y", "type": "quantitative"}, "y2": {"field": "yl"}}},
      {"data": {"name": "brackets"}, "transform": [{"filter": "datum.p == 'HER'"}],
       "mark": {"type": "rule", "color": "#222222", "strokeWidth": 1},
       "encoding": {"x": {"field": "x2", "type": "quantitative"}, "y": {"field": "y", "type": "quantitative"}, "y2": {"field": "yr"}}},
      {"data": {"name": "brackets"}, "transform": [{"filter": "datum.p == 'HER' && datum.label == 'ns'"}],
       "mark": {"type": "text", "fontSize": 18, "color": "black", "baseline": "alphabetic", "align": "center", "dy": -2.5},
       "encoding": {"x": {"field": "xm", "type": "quantitative"}, "y": {"field": "y", "type": "quantitative"}, "text": {"field": "label"}}},
      {"data": {"name": "brackets"}, "transform": [{"filter": "datum.p == 'HER' && datum.label != 'ns'"}],
       "mark": {"type": "text", "fontSize": 18, "color": "black", "baseline": "alphabetic", "align": "center", "dy": 5.8},
       "encoding": {"x": {"field": "xm", "type": "quantitative"}, "y": {"field": "y", "type": "quantitative"}, "text": {"field": "label"}}}
    ]
  },
  {"width": 10, "height": 265.7, "data": {"values": []}, "mark": "point"},
  {
    "width": 436.7, "height": 265.7,
    "layer": [
      {"data": {"name": "violins"}, "transform": [{"filter": "datum.p == 'PR'"}],
       "mark": {"type": "area", "orient": "horizontal", "interpolate": "monotone", "stroke": "black", "strokeWidth": 0.9, "opacity": 1, "fillOpacity": 1},
       "encoding": {
         "y": {"field": "y", "type": "quantitative", "scale": {"domain": [-0.096, 12.7], "nice": false, "zero": false}, "axis": {"title": null, "values": [0, 2.5, 5, 7.5, 10, 12.5], "format": ".1f"}},
         "x": {"field": "lo", "type": "quantitative", "stack": null, "scale": {"domain": [0.4, 3.6], "nice": false, "zero": false}, "axis": {"title": null, "values": [1, 2, 3], "labelExpr": "datum.value == 1 ? 'PR+' : datum.value == 2 ? 'PR-' : 'Normal'"}},
         "x2": {"field": "hi"},
         "color": {"field": "g", "type": "nominal", "scale": {"domain": ["PR+", "PR-", "Normal"], "range": ["#F4502D", "#00AFC6", "#00997D"]}, "legend": null}}},
      {"data": {"name": "boxes"}, "transform": [{"filter": "datum.p == 'PR'"}],
       "mark": {"type": "rule", "color": "black", "strokeWidth": 1},
       "encoding": {"x": {"field": "x", "type": "quantitative"}, "y": {"field": "lo", "type": "quantitative"}, "y2": {"field": "hi"}}},
      {"data": {"name": "boxes"}, "transform": [{"filter": "datum.p == 'PR'"}],
       "mark": {"type": "bar", "fill": "white", "stroke": "black", "strokeWidth": 1, "size": 27.3, "opacity": 1},
       "encoding": {"x": {"field": "x", "type": "quantitative"}, "y": {"field": "q1", "type": "quantitative"}, "y2": {"field": "q3"}}},
      {"data": {"name": "boxes"}, "transform": [{"filter": "datum.p == 'PR'"}],
       "mark": {"type": "tick", "orient": "horizontal", "size": 27.3, "thickness": 1.2, "color": "black", "opacity": 1},
       "encoding": {"x": {"field": "x", "type": "quantitative"}, "y": {"field": "med", "type": "quantitative"}}},
      {"data": {"name": "outliers"}, "transform": [{"filter": "datum.p == 'PR'"}],
       "mark": {"type": "point", "filled": true, "color": "black", "size": 30, "opacity": 1},
       "encoding": {"x": {"field": "x", "type": "quantitative"}, "y": {"field": "y", "type": "quantitative"}}},
      {"data": {"name": "brackets"}, "transform": [{"filter": "datum.p == 'PR'"}],
       "mark": {"type": "rule", "color": "#222222", "strokeWidth": 1},
       "encoding": {"x": {"field": "x1", "type": "quantitative"}, "x2": {"field": "x2"}, "y": {"field": "y", "type": "quantitative"}}},
      {"data": {"name": "brackets"}, "transform": [{"filter": "datum.p == 'PR'"}],
       "mark": {"type": "rule", "color": "#222222", "strokeWidth": 1},
       "encoding": {"x": {"field": "x1", "type": "quantitative"}, "y": {"field": "y", "type": "quantitative"}, "y2": {"field": "yl"}}},
      {"data": {"name": "brackets"}, "transform": [{"filter": "datum.p == 'PR'"}],
       "mark": {"type": "rule", "color": "#222222", "strokeWidth": 1},
       "encoding": {"x": {"field": "x2", "type": "quantitative"}, "y": {"field": "y", "type": "quantitative"}, "y2": {"field": "yr"}}},
      {"data": {"name": "brackets"}, "transform": [{"filter": "datum.p == 'PR' && datum.label == 'ns'"}],
       "mark": {"type": "text", "fontSize": 18, "color": "black", "baseline": "alphabetic", "align": "center", "dy": -2.5},
       "encoding": {"x": {"field": "xm", "type": "quantitative"}, "y": {"field": "y", "type": "quantitative"}, "text": {"field": "label"}}},
      {"data": {"name": "brackets"}, "transform": [{"filter": "datum.p == 'PR' && datum.label != 'ns'"}],
       "mark": {"type": "text", "fontSize": 18, "color": "black", "baseline": "alphabetic", "align": "center", "dy": 5.8},
       "encoding": {"x": {"field": "xm", "type": "quantitative"}, "y": {"field": "y", "type": "quantitative"}, "text": {"field": "label"}}}
    ]
  },
  {
    "width": 411.5, "height": 268.3,
    "layer": [
      {"data": {"name": "violins"}, "transform": [{"filter": "datum.p == 'TN'"}],
       "mark": {"type": "area", "orient": "horizontal", "interpolate": "monotone", "stroke": "black", "strokeWidth": 0.9, "opacity": 1, "fillOpacity": 1},
       "encoding": {
         "y": {"field": "y", "type": "quantitative", "scale": {"domain": [1.857, 10.177], "nice": false, "zero": false}, "axis": {"title": null, "domain": false, "values": [2, 4, 6, 8, 10], "format": "d"}},
         "x": {"field": "lo", "type": "quantitative", "stack": null, "scale": {"domain": [0.4, 2.54], "nice": false, "zero": false}, "axis": {"title": null, "values": [1, 2], "labelPadding": 1, "labelExpr": "datum.value == 1 ? 'TNBC' : 'Normal'"}},
         "x2": {"field": "hi"},
         "color": {"field": "g", "type": "nominal", "scale": {"domain": ["TNBC", "Normal"], "range": ["#F4502D", "#00AFC6"]}, "legend": null}}},
      {"data": {"values": [{}]},
       "mark": {"type": "rule", "color": "black", "strokeWidth": 1.7},
       "encoding": {"x": {"datum": 0.4, "type": "quantitative"}, "y": {"datum": 1.857, "type": "quantitative"}, "y2": {"datum": 10.744}}},
      {"data": {"name": "boxes"}, "transform": [{"filter": "datum.p == 'TN'"}],
       "mark": {"type": "rule", "color": "black", "strokeWidth": 1},
       "encoding": {"x": {"field": "x", "type": "quantitative"}, "y": {"field": "lo", "type": "quantitative"}, "y2": {"field": "hi"}}},
      {"data": {"name": "boxes"}, "transform": [{"filter": "datum.p == 'TN'"}],
       "mark": {"type": "bar", "fill": "white", "stroke": "black", "strokeWidth": 1, "size": 38.5, "opacity": 1},
       "encoding": {"x": {"field": "x", "type": "quantitative"}, "y": {"field": "q1", "type": "quantitative"}, "y2": {"field": "q3"}}},
      {"data": {"name": "boxes"}, "transform": [{"filter": "datum.p == 'TN'"}],
       "mark": {"type": "tick", "orient": "horizontal", "size": 38.5, "thickness": 1.2, "color": "black", "opacity": 1},
       "encoding": {"x": {"field": "x", "type": "quantitative"}, "y": {"field": "med", "type": "quantitative"}}},
      {"data": {"name": "outliers"}, "transform": [{"filter": "datum.p == 'TN'"}],
       "mark": {"type": "point", "filled": true, "color": "black", "size": 30, "opacity": 1},
       "encoding": {"x": {"field": "x", "type": "quantitative"}, "y": {"field": "y", "type": "quantitative"}}},
      {"data": {"name": "brackets"}, "transform": [{"filter": "datum.p == 'TN'"}],
       "mark": {"type": "rule", "color": "#222222", "strokeWidth": 1},
       "encoding": {"x": {"field": "x1", "type": "quantitative"}, "x2": {"field": "x2"}, "y": {"field": "y", "type": "quantitative"}}},
      {"data": {"name": "brackets"}, "transform": [{"filter": "datum.p == 'TN'"}],
       "mark": {"type": "rule", "color": "#222222", "strokeWidth": 1},
       "encoding": {"x": {"field": "x1", "type": "quantitative"}, "y": {"field": "y", "type": "quantitative"}, "y2": {"field": "yl"}}},
      {"data": {"name": "brackets"}, "transform": [{"filter": "datum.p == 'TN'"}],
       "mark": {"type": "rule", "color": "#222222", "strokeWidth": 1},
       "encoding": {"x": {"field": "x2", "type": "quantitative"}, "y": {"field": "y", "type": "quantitative"}, "y2": {"field": "yr"}}},
      {"data": {"name": "brackets"}, "transform": [{"filter": "datum.p == 'TN' && datum.label != 'ns'"}],
       "mark": {"type": "text", "fontSize": 18, "color": "black", "baseline": "alphabetic", "align": "center", "dy": 5.8},
       "encoding": {"x": {"field": "xm", "type": "quantitative"}, "y": {"field": "y", "type": "quantitative"}, "text": {"field": "label"}}}
    ]
  }
]
}
